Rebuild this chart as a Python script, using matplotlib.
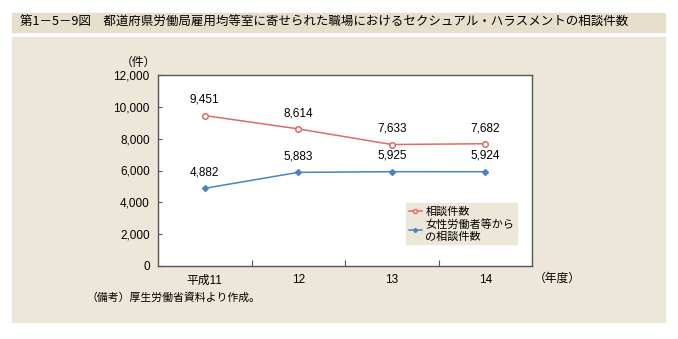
import matplotlib
matplotlib.use("Agg")
from matplotlib import pyplot as plt
from matplotlib.patches import Rectangle
from matplotlib.ticker import FuncFormatter

plt.rcParams['font.family'] = ['Liberation Sans', 'Noto Sans CJK JP']

years = ["平成11", "12", "13", "14"]
total_cases = [9451, 8614, 7633, 7682]
female_worker_cases = [4882, 5883, 5925, 5924]

red = "#e06a64"
blue = "#4a82c6"
band = "#e6dfcb"
panel = "#ece7d8"
cjk = ['Noto Sans CJK JP', 'DejaVu Sans']

fig = plt.figure(figsize=(6.78, 3.39), dpi=100)
fig.patch.set_facecolor("white")

# title band and background panel, kept behind the axes
fig.patches.append(Rectangle((12 / 678, 1 - 32 / 339), 653 / 678, 19 / 339,
                             transform=fig.transFigure, color=band, zorder=-2))
fig.patches.append(Rectangle((12 / 678, 1 - 322 / 339), 653 / 678, 285 / 339,
                             transform=fig.transFigure, color=panel, zorder=-2))
fig.text(20 / 678, 1 - 22.5 / 339,
         "第1－5－9図　都道府県労働局雇用均等室に寄せられた職場におけるセクシュアル・ハラスメントの相談件数",
         fontsize=9.0, va="center", ha="left", family=cjk)

ax = fig.add_axes([158 / 678, 1 - 266 / 339, 374 / 678, 191 / 339])
ax.set_zorder(1)
ax.set_facecolor("white")

x = list(range(len(years)))
ax.plot(x, total_cases, color=red, lw=1.1, marker="o", ms=4,
        mfc="white", mec=red, mew=1.1, label="相談件数")
ax.plot(x, female_worker_cases, color=blue, lw=1.1, marker="D", ms=3,
        mfc=blue, mec=blue, label="女性労働者等から\nの相談件数")

for xi, v in zip(x, total_cases):
    ax.annotate(f"{v:,}", (xi, v), xytext=(0, 7), textcoords="offset points",
                ha="center", va="bottom", fontsize=8.5)
for xi, v in zip(x, female_worker_cases):
    ax.annotate(f"{v:,}", (xi, v), xytext=(0, 7), textcoords="offset points",
                ha="center", va="bottom", fontsize=8.5)

ax.set_xlim(-0.5, 3.5)
ax.set_ylim(0, 12000)
ax.set_yticks(range(0, 12001, 2000))
ax.yaxis.set_major_formatter(FuncFormatter(lambda v, p: f"{int(v):,}"))
ax.set_xticks([0.5, 1.5, 2.5])
ax.set_xticklabels([])
ax.set_xticks(x, minor=True)
ax.set_xticklabels(years, minor=True)
ax.tick_params(axis="x", which="major", direction="in", length=4, color="#555555")
ax.tick_params(axis="x", which="minor", length=0, pad=6, labelsize=8.5)
ax.tick_params(axis="y", direction="in", length=3, color="#555555", labelsize=8.5, pad=6)
for s in ax.spines.values():
    s.set_color("#555555")
    s.set_linewidth(1.0)

fig.text(138 / 678, 1 - 62 / 339, "（件）", fontsize=8.5, ha="center", va="center", family=cjk)
fig.text(557 / 678, 1 - 278 / 339, "（年度）", fontsize=8.5, ha="center", va="center", family=cjk)
fig.text(86 / 678, 1 - 298 / 339, "（備考）厚生労働省資料より作成。", fontsize=7.8,
         ha="left", va="center", family=cjk)

leg = ax.legend(loc="lower right", bbox_to_anchor=(0.975, 0.085),
                prop={"family": cjk, "size": 8},
                frameon=True, fancybox=False, handlelength=1.2, handletextpad=0.3,
                borderpad=0.25, labelspacing=0.2, markerscale=0.7)
leg.get_frame().set_facecolor(panel)
leg.get_frame().set_edgecolor(panel)
leg.get_frame().set_alpha(1)

fig.savefig("out.png", dpi=100)
